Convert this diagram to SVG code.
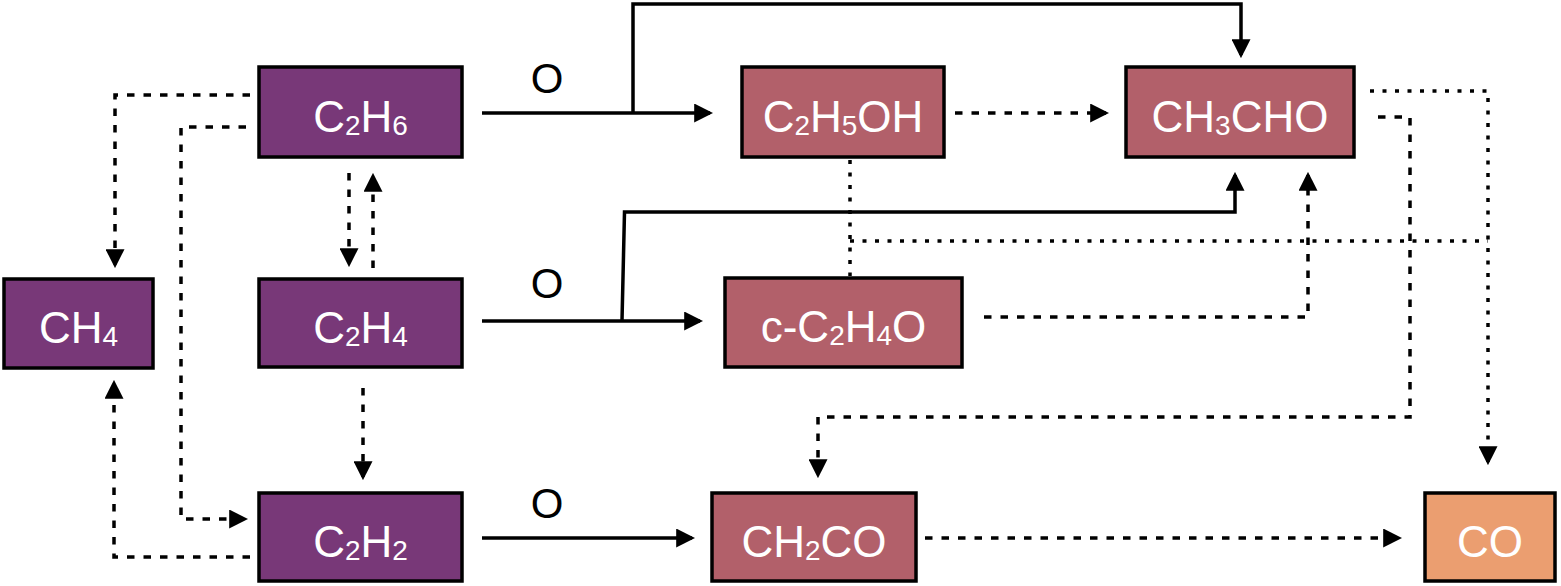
<svg xmlns="http://www.w3.org/2000/svg" width="1561" height="586" viewBox="0 0 1561 586">
<style>
.box{stroke:#000;stroke-width:3.5}
.p{fill:#783878}
.r{fill:#B2606A}
.o{fill:#EB9E70}
.t{font-family:"Liberation Sans",Arial,sans-serif;font-size:44px;fill:#fff;text-anchor:middle}
.s{font-size:28px}
.lbl{font-family:"Liberation Sans",Arial,sans-serif;font-size:42px;fill:#000;text-anchor:middle}
.c path{fill:none;stroke:#000;stroke-width:3.5}
.c .d{stroke-dasharray:7.5 9}
.c .dt{stroke-dasharray:4 8.5}
</style>
<defs>
<marker id="ah" viewBox="0 0 6 6" markerWidth="19" markerHeight="19" refX="5" refY="3" orient="auto" markerUnits="userSpaceOnUse">
<path d="M0,0 L6,3 L0,6 z" fill="#000"/>
</marker>
</defs>
<rect width="1561" height="586" fill="#fff"/>
<g id="connectors" class="c">
<path d="M482,113 H710" marker-end="url(#ah)"/>
<path d="M633,113 V4 H1241 V55" marker-end="url(#ah)"/>
<path d="M482,321 H700" marker-end="url(#ah)"/>
<path d="M622,321 L624.5,212 H1235 V175" marker-end="url(#ah)"/>
<path d="M482,538 H692" marker-end="url(#ah)"/>
<path class="d" d="M1378,117 H1410 V417 H818 V475" marker-end="url(#ah)"/>
<path class="d" d="M955,113 H1106" marker-end="url(#ah)"/>
<path class="d" d="M984,317 H1308 V175" marker-end="url(#ah)"/>
<path class="d" d="M925,538 H1399" marker-end="url(#ah)"/>
<path class="d" d="M250,95 H115 V265" marker-end="url(#ah)"/>
<path class="d" d="M250,557 H114 V383" marker-end="url(#ah)"/>
<path class="d" d="M246,127 H181 V519 H245" marker-end="url(#ah)"/>
<path class="d" d="M349,173 V264" marker-end="url(#ah)"/>
<path class="d" d="M373,268 V176" marker-end="url(#ah)"/>
<path class="d" d="M363,388 V477" marker-end="url(#ah)"/>
<path class="dt" d="M850,160 V276"/>
<path class="dt" d="M850,241 H1488"/>
<path class="dt" d="M1370,91 H1488 V462" marker-end="url(#ah)"/>
</g>
<g id="labels">
<text class="lbl" x="547" y="93">O</text>
<text class="lbl" x="547" y="298">O</text>
<text class="lbl" x="547" y="518">O</text>
</g>
<g id="n-c2h6"><rect class="box p" x="259" y="67" width="203" height="90"/><text class="t" x="360.5" y="132">C<tspan class="s" dy="3">2</tspan><tspan dy="-3">H</tspan><tspan class="s" dy="3">6</tspan></text></g>
<g id="n-c2h5oh"><rect class="box r" x="742" y="67" width="202" height="90"/><text class="t" x="843" y="132">C<tspan class="s" dy="3">2</tspan><tspan dy="-3">H</tspan><tspan class="s" dy="3">5</tspan><tspan dy="-3">OH</tspan></text></g>
<g id="n-ch3cho"><rect class="box r" x="1126" y="67" width="228" height="90"/><text class="t" x="1240" y="132">CH<tspan class="s" dy="3">3</tspan><tspan dy="-3">CHO</tspan></text></g>
<g id="n-ch4"><rect class="box p" x="4" y="279" width="149" height="89"/><text class="t" x="78.5" y="343">CH<tspan class="s" dy="3">4</tspan></text></g>
<g id="n-c2h4"><rect class="box p" x="259" y="279" width="203" height="88"/><text class="t" x="360.5" y="343">C<tspan class="s" dy="3">2</tspan><tspan dy="-3">H</tspan><tspan class="s" dy="3">4</tspan></text></g>
<g id="n-cc2h4o"><rect class="box r" x="725" y="278" width="237" height="89"/><text class="t" x="843.5" y="342">c-C<tspan class="s" dy="3">2</tspan><tspan dy="-3">H</tspan><tspan class="s" dy="3">4</tspan><tspan dy="-3">O</tspan></text></g>
<g id="n-c2h2"><rect class="box p" x="259" y="493" width="203" height="88"/><text class="t" x="360.5" y="557">C<tspan class="s" dy="3">2</tspan><tspan dy="-3">H</tspan><tspan class="s" dy="3">2</tspan></text></g>
<g id="n-ch2co"><rect class="box r" x="712" y="493" width="204" height="88"/><text class="t" x="814" y="557">CH<tspan class="s" dy="3">2</tspan><tspan dy="-3">CO</tspan></text></g>
<g id="n-co"><rect class="box o" x="1425" y="493" width="130" height="88"/><text class="t" x="1490" y="557">CO</text></g>
</svg>
